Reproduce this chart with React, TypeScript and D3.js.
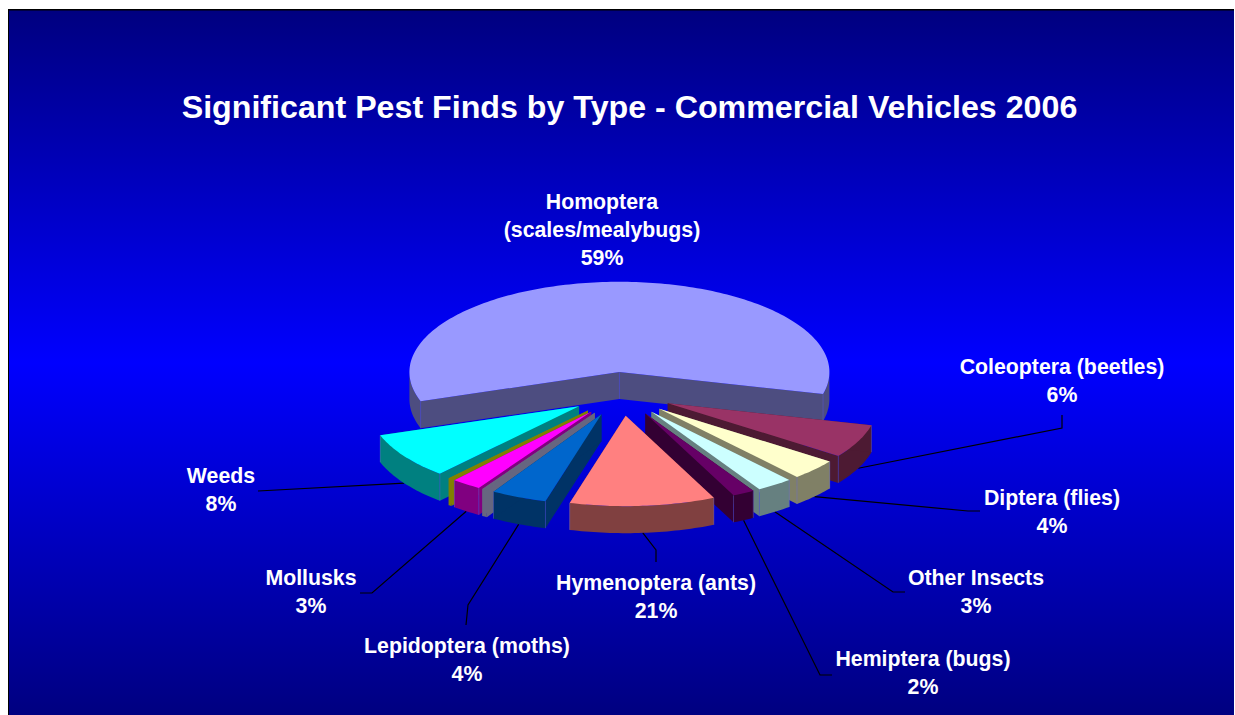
import { useEffect, useRef } from 'react'
import * as d3 from 'd3'

// clockwise from the left edge of the big slice. The two blank entries are the
// sliver slices in the picture that have no label.
const categories = [
  'Homoptera',
  'Coleoptera (beetles)',
  'Diptera (flies)',
  'Other Insects',
  'Hemiptera (bugs)',
  'Hymenoptera (ants)',
  'Lepidoptera (moths)',
  '',
  'Mollusks',
  '',
  'Weeds',
]
// printed text of the labels (they add up to 110 in the original)
const printedPercents = ['59%', '6%', '4%', '3%', '2%', '21%', '4%', '', '3%', '', '8%']
// share of the circle the slices really take up
const sliceShares = [59.2, 6, 3.7, 2.8, 1.7, 11.2, 4.3, 0.4, 2.3, 0.25, 8.25]
const sliceColors = [
  '#9999FF', '#993366', '#FFFFCC', '#CCFFFF', '#660066', '#FF8080',
  '#0066CC', '#666680', '#FF00FF', '#808000', '#00FFFF',
]

const labelLayout = [
  { x: 602, y: 209, lines: ['Homoptera', '(scales/mealybugs)'] },
  { x: 1062, y: 374, elbow: [[1062, 428], [1062, 415]] },
  { x: 1052, y: 505, elbow: [[968, 511], [980, 511]] },
  { x: 976, y: 585, elbow: [[893, 592], [905, 592]] },
  { x: 923, y: 666, elbow: [[820, 675], [832, 675]] },
  { x: 656, y: 590, elbow: [[656, 550], [656, 562]] },
  { x: 467, y: 653, elbow: [[468, 605], [466, 625]] },
  null,
  { x: 311, y: 585, elbow: [[372, 593], [360, 593]] },
  null,
  { x: 221, y: 483, elbow: [[258, 491]] },
]

const width = 1235
const height = 715
const cx = 621.5
const cy = 394
const radius = 210
const tilt = 0.43
const explode = 51
const depth = 27
const startDeg = -108.8

export default function App() {
  const ref = useRef<SVGSVGElement>(null)

  useEffect(() => {
    const svg = d3.select(ref.current)
    svg.selectAll('*').remove()

    const defs = svg.append('defs')
    const grad = defs
      .append('linearGradient')
      .attr('id', 'bg')
      .attr('x1', 0)
      .attr('x2', 0)
      .attr('y1', 0)
      .attr('y2', 1)
    grad.append('stop').attr('offset', '0%').attr('stop-color', '#000080')
    grad.append('stop').attr('offset', '50%').attr('stop-color', '#0000FF')
    grad.append('stop').attr('offset', '100%').attr('stop-color', '#000080')

    svg
      .append('rect')
      .attr('x', 8)
      .attr('y', 9)
      .attr('width', width - 9)
      .attr('height', height - 9)
      .attr('fill', '#000')
    svg
      .append('rect')
      .attr('x', 9)
      .attr('y', 10.5)
      .attr('width', width - 10)
      .attr('height', height - 10.5)
      .attr('fill', 'url(#bg)')

    svg
      .append('text')
      .attr('x', 629.5)
      .attr('y', 118)
      .attr('text-anchor', 'middle')
      .attr('font-family', '"Liberation Sans", Arial, sans-serif')
      .attr('font-weight', 'bold')
      .attr('font-size', 32.2)
      .attr('fill', '#fff')
      .text('Significant Pest Finds by Type - Commercial Vehicles 2006')

    const start = (startDeg * Math.PI) / 180
    const pie = d3
      .pie<number>()
      .sort(null)
      .startAngle(start)
      .endAngle(start + 2 * Math.PI)
    const arcs = pie(sliceShares)

    // flat circle on the ground -> tilted ellipse on screen
    const sx = d3.scaleLinear().domain([-1, 1]).range([cx - radius, cx + radius])
    const sy = d3.scaleLinear().domain([-1, 1]).range([cy - radius * tilt, cy + radius * tilt])
    const off = explode / radius
    const tipOf = (mid: number): [number, number] => [Math.sin(mid) * off, -Math.cos(mid) * off]
    const project = (mid: number, a: number, r = 1, dz = 0): [number, number] => {
      const t = tipOf(mid)
      return [sx(t[0] + Math.sin(a) * r), sy(t[1] - Math.cos(a) * r) + dz]
    }
    const line = d3.line()
    const arcPts = (mid: number, a0: number, a1: number, dz = 0) => {
      const n = Math.max(2, Math.ceil(Math.abs(a1 - a0) / 0.02))
      return d3.range(n + 1).map((i) => project(mid, a0 + ((a1 - a0) * i) / n, 1, dz))
    }

    const textFont = (s: any) =>
      s
        .attr('text-anchor', 'middle')
        .attr('font-family', '"Liberation Sans", Arial, sans-serif')
        .attr('font-weight', 'bold')
        .attr('font-size', 21.3)
        .attr('fill', '#fff')

    // leader lines go under the slices
    const gLeaders = svg.append('g')
    arcs.forEach((d, i) => {
      const lay = labelLayout[i]
      if (!lay || !lay.elbow) return
      const mid = (d.startAngle + d.endAngle) / 2
      const pts = [project(mid, mid, 1, depth), ...lay.elbow] as [number, number][]
      gLeaders
        .append('path')
        .attr('d', line(pts))
        .attr('fill', 'none')
        .attr('stroke', '#000')
        .attr('stroke-width', 1.2)
    })

    // paint from the back of the pie to the front
    const order = d3.range(arcs.length).sort((p, q) => {
      const mp = (arcs[p].startAngle + arcs[p].endAngle) / 2
      const mq = (arcs[q].startAngle + arcs[q].endAngle) / 2
      return d3.descending(Math.cos(mp), Math.cos(mq))
    })

    const gPie = svg.append('g')
    order.forEach((i) => {
      const d = arcs[i]
      const a0 = d.startAngle
      const a1 = d.endAngle
      const mid = (a0 + a1) / 2
      const sliver = sliceShares[i] < 1
      const top = sliceColors[i]
      // the slivers show one flat colour, top and side alike
      const side = sliver ? top : d3.interpolateRgb(top, '#000')(0.5)
      const tip = project(mid, 0, 0)
      const g = gPie.append('g')

      // outer wall, only the stretch that faces the viewer
      const lo = Math.PI / 2
      const hi = (3 * Math.PI) / 2
      const spans: [number, number][] = []
      for (const shift of [0, 2 * Math.PI, -2 * Math.PI]) {
        const s = Math.max(a0 + shift, lo)
        const e = Math.min(a1 + shift, hi)
        if (e > s) spans.push([s, e])
      }
      spans.forEach(([s, e]) => {
        const upper = arcPts(mid, s, e)
        const lower = arcPts(mid, e, s, depth)
        g.append('path')
          .attr('d', line([...upper, ...lower]) + 'Z')
          .attr('fill', side)
      })

      // radial walls
      ;[a0, a1].forEach((a) => {
        const p = project(mid, a)
        const pts: [number, number][] = [tip, p, [p[0], p[1] + depth], [tip[0], tip[1] + depth]]
        g.append('path')
          .attr('d', line(pts) + 'Z')
          .attr('fill', side)
      })

      // corner edges, faint blue in the original
      ;[a0, a1].forEach((a) => {
        if (Math.cos(a) > 0.35 || sliver) return
        const p = project(mid, a)
        g.append('line')
          .attr('x1', p[0])
          .attr('x2', p[0])
          .attr('y1', p[1])
          .attr('y2', p[1] + depth)
          .attr('stroke', '#6a6ae0')
          .attr('stroke-opacity', 0.4)
          .attr('stroke-width', 1)
      })

      g.append('path')
        .attr('d', line([tip, ...arcPts(mid, a0, a1)]) + 'Z')
        .attr('fill', top)

      if (i === 0) {
        g.append('line')
          .attr('x1', tip[0])
          .attr('x2', tip[0])
          .attr('y1', tip[1])
          .attr('y2', tip[1] + depth)
          .attr('stroke', '#6a6ae0')
          .attr('stroke-opacity', 0.4)
      }
    })

    // labels
    const gLabels = svg.append('g')
    labelLayout.forEach((lay, i) => {
      if (!lay) return
      const lines = [...(lay.lines || [categories[i]]), printedPercents[i]]
      lines.forEach((txt, k) => {
        gLabels
          .append('text')
          .attr('x', lay.x)
          .attr('y', lay.y + k * 28)
          .call(textFont)
          .text(txt)
      })
    })
  }, [])

  return (
    <svg
      ref={ref}
      width={width}
      height={height}
      style={{ position: 'absolute', left: 0, top: 0, display: 'block' }}
    />
  )
}
